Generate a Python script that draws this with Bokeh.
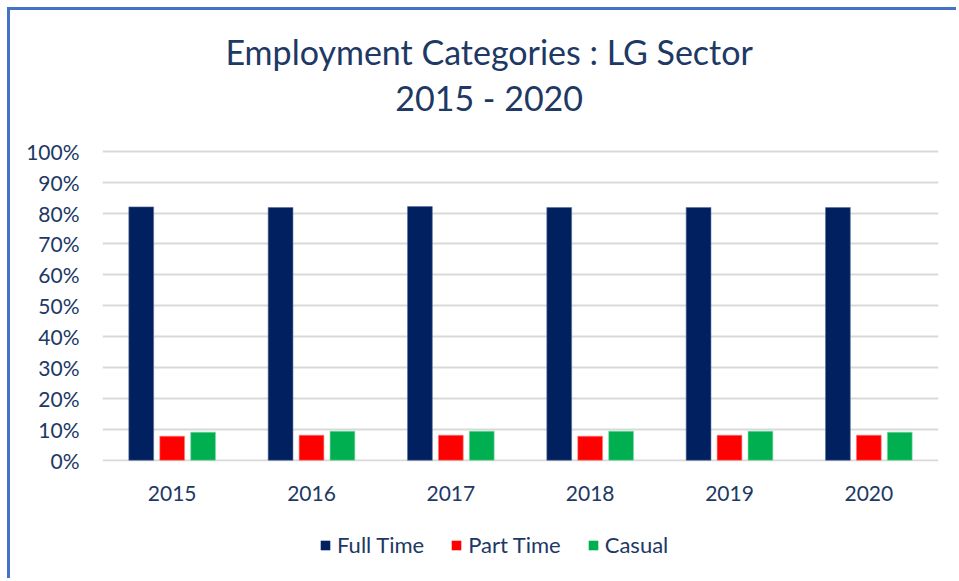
from bokeh.plotting import figure
from bokeh.layouts import column
from bokeh.models import (FactorRange, Range1d, NumeralTickFormatter, FixedTicker, Label,
                          Legend, LegendItem, ColumnDataSource)
from bokeh.transform import dodge
from bokeh.embed import file_html
from bokeh.resources import INLINE

years = ["2015", "2016", "2017", "2018", "2019", "2020"]
full_time = [0.820, 0.818, 0.821, 0.818, 0.818, 0.818]
part_time = [0.078, 0.081, 0.081, 0.078, 0.081, 0.081]
casual = [0.091, 0.094, 0.094, 0.094, 0.094, 0.091]
series_names = ["Full Time", "Part Time", "Casual"]
colors = ["#002060", "#FF0000", "#00B050"]
edge_colors = ["#5a6e9a", "#ff8080", "#80d8a8"]
title_lines = ["Employment Categories : LG Sector", "2015 - 2020"]

src = ColumnDataSource(dict(years=years, ft=full_time, pt=part_time, ca=casual))
cols = ["ft", "pt", "ca"]
offsets = [-0.222, 0.0, 0.222]

FONT = "Lato"
TXT = "#203864"

# main chart: the frame also holds the title area (gridlines only at 0..100%)
p = figure(x_range=FactorRange(*years), y_range=Range1d(-0.004, 1.4555),
           width=949, height=508, output_backend="svg", toolbar_location=None,
           title=None, min_border_left=92, min_border_right=18,
           min_border_top=0, min_border_bottom=57)
p.outline_line_color = None
p.background_fill_color = "white"
p.border_fill_color = "white"

for c, off, fc, lc in zip(cols, offsets, colors, edge_colors):
    p.vbar(x=dodge("years", off, range=p.x_range), top=c, width=0.178, source=src,
           fill_color=fc, line_color=lc, line_width=0.6)

p.yaxis.ticker = FixedTicker(ticks=[i / 10 for i in range(11)])
p.yaxis.formatter = NumeralTickFormatter(format="0%")
for ax in (p.xaxis, p.yaxis):
    ax.axis_line_color = None
    ax.major_tick_line_color = None
    ax.minor_tick_line_color = None
    ax.major_label_text_color = TXT
    ax.major_label_text_font = FONT
    ax.major_label_text_font_size = "21px"
p.yaxis.major_label_standoff = 17
p.xaxis.major_label_standoff = 18
p.xgrid.grid_line_color = None
p.ygrid.grid_line_color = "#D9D9D9"
p.ygrid.grid_line_width = 2

for txt, yv in zip(title_lines, [1.3235, 1.1746]):
    p.add_layout(Label(x=2.775, y=yv, text=txt, text_align="center", text_baseline="middle",
                       text_font=FONT, text_font_size="34px", text_color=TXT))

# legend strip below the chart (its bars lie outside its visible y range)
pl = figure(x_range=p.x_range, y_range=Range1d(5, 6), width=949, height=63,
            output_backend="svg", toolbar_location=None, title=None,
            x_axis_location=None, y_axis_location=None,
            min_border_left=0, min_border_right=0, min_border_top=0, min_border_bottom=0)
pl.outline_line_color = None
pl.xgrid.grid_line_color = None
pl.ygrid.grid_line_color = None
rs = []
for c, off, fc, lc in zip(cols, offsets, colors, edge_colors):
    rs.append(pl.vbar(x=dodge("years", off, range=pl.x_range), top=c, width=0.178,
                      source=src, fill_color=fc, line_color=None))
legend = Legend(items=[LegendItem(label=n, renderers=[r]) for n, r in zip(series_names, rs)],
                orientation="horizontal", location=(217, 23),
                label_text_font=FONT, label_text_font_size="22px", label_text_color=TXT,
                glyph_width=12, glyph_height=12, spacing=26, label_standoff=6,
                border_line_color=None, background_fill_alpha=0, margin=0, padding=0)
pl.add_layout(legend, "center")

lay = column(p, pl, width=949, height=571, spacing=0,
             styles={"border-top": "3px solid #4472C4", "border-left": "3px solid #4472C4",
                     "margin-left": "7px", "margin-top": "7px"})

open("out.html", "w").write(file_html(lay, INLINE))
